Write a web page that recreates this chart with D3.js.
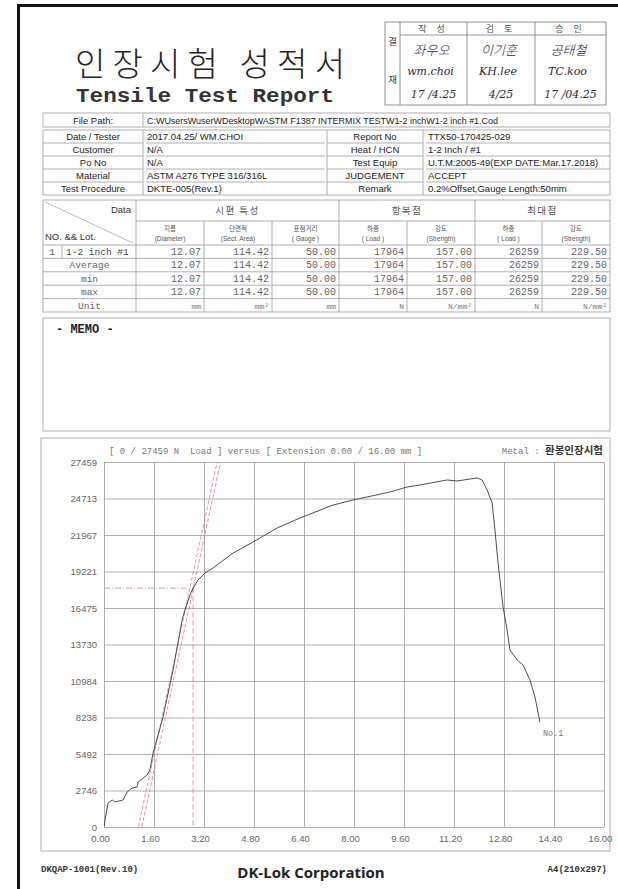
<!DOCTYPE html>
<html><head><meta charset="utf-8">
<script src="https://cdn.jsdelivr.net/npm/d3@7"></script>
<style>body{margin:0;background:#fff} svg{display:block} text{white-space:pre}</style>
</head><body>
<svg id="page" width="618" height="889"></svg>
<script>
// ---- report header fields ----
const approvalRoles = ["작 성", "검 토", "승 인"];
const signNames = ["좌우오", "이기훈", "공태철"];
const signIds = ["wm.choi", "KH.lee", "TC.koo"];
const signDates = ["17 /4.25", "4/25", "17 /04.25"];

const filePath = "C:WUsersWuserWDesktopWASTM F1387 INTERMIX TESTW1-2 inchW1-2 inch #1.Cod";
const infoLabelsLeft = ["Date / Tester", "Customer", "Po No", "Material", "Test Procedure"];
const infoValuesLeft = ["2017.04.25/ WM.CHOI", "N/A", "N/A", "ASTM A276 TYPE 316/316L", "DKTE-005(Rev.1)"];
const infoLabelsRight = ["Report No", "Heat / HCN", "Test Equip", "JUDGEMENT", "Remark"];
const infoValuesRight = ["TTX50-170425-029", "1-2 Inch / #1", "U.T.M:2005-49(EXP DATE:Mar.17.2018)", "ACCEPT", "0.2%Offset,Gauge Length:50mm"];

// ---- result table ----
const groupHeaders = ["시편 특성", "항복점", "최대점"];
const groupSpans = [3, 2, 2];
const subHeadersKo = ["지름", "단면적", "표점거리", "하중", "강도", "하중", "강도"];
const subHeadersEn = ["(Diameter)", "(Sect. Area)", "( Gauge )", "( Load )", "(Strength)", "( Load )", "(Strength)"];
const rowLabels = ["1-2 inch #1", "Average", "min", "max"];
const diameter = [12.07, 12.07, 12.07, 12.07];
const sectArea = [114.42, 114.42, 114.42, 114.42];
const gaugeLen = [50.00, 50.00, 50.00, 50.00];
const yieldLoad = [17964, 17964, 17964, 17964];
const yieldStrength = [157.00, 157.00, 157.00, 157.00];
const maxLoad = [26259, 26259, 26259, 26259];
const maxStrength = [229.50, 229.50, 229.50, 229.50];
const units = ["mm", "mm²", "mm", "N", "N/mm²", "N", "N/mm²"];

// ---- load / extension curve ----
const extension = [0, 0.06, 0.13, 0.26, 0.35, 0.61, 0.74, 0.90, 1.06, 1.09, 1.38, 1.47, 1.57, 1.89, 2.21, 2.50, 2.59, 2.75, 2.85, 3.01, 3.23, 3.49, 4.13, 4.77, 5.54, 6.27, 7.33, 7.97, 9.15, 9.70, 10.11, 10.98, 11.30, 11.94, 12.10, 12.26, 12.42, 12.51, 12.61, 12.77, 12.90, 12.99, 13.22, 13.41, 13.63, 13.79, 13.95];
const loadN = [0, 900, 1805, 2031, 1881, 2031, 2633, 2934, 3009, 3385, 3912, 4288, 5567, 8275, 11811, 15573, 16325, 17453, 17964, 18582, 19108, 19484, 20613, 21440, 22494, 23246, 24224, 24600, 25202, 25578, 25729, 26105, 26030, 26259, 26105, 25352, 24374, 22343, 19861, 16551, 14820, 13316, 12563, 12187, 11059, 9780, 7899];
const xTicks = [0, 1.6, 3.2, 4.8, 6.4, 8.0, 9.6, 11.2, 12.8, 14.4, 16.0];
const yTicks = [0, 2746, 5492, 8238, 10984, 13730, 16475, 19221, 21967, 24713, 27459];
const yieldExt = 2.85;
const elasticLineA = [[1.10, 0], [3.62, 27459]];
const elasticLineB = [[1.21, 0], [3.73, 27459]];

const svg = d3.select("#page");
const SANS = "'Liberation Sans', Arial, sans-serif";
const MONO = "'Liberation Mono', 'Courier New', monospace";
const KR = "'Noto Sans CJK KR', sans-serif";
const GRID = "#9a9a9a";

// page frame
svg.append("rect").attr("x", 0).attr("y", 0).attr("width", 618).attr("height", 889).attr("fill", "#fff");
svg.append("line").attr("x1", 18.5).attr("x2", 18.5).attr("y1", 4).attr("y2", 889).attr("stroke", "#111").attr("stroke-width", 3);
svg.append("line").attr("x1", 17).attr("x2", 618).attr("y1", 5.5).attr("y2", 5.5).attr("stroke", "#111").attr("stroke-width", 3);

// title
svg.append("text").attr("x", 75).attr("y", 76).attr("font-family", KR).attr("font-weight", 300)
  .attr("font-size", 33).attr("fill", "#222").attr("textLength", 270).attr("lengthAdjust", "spacing")
  .text("인장시험 성적서");
svg.append("text").attr("x", 76).attr("y", 102).attr("font-family", MONO).attr("font-weight", "bold")
  .attr("font-size", 20).attr("fill", "#333").attr("textLength", 258).attr("lengthAdjust", "spacingAndGlyphs")
  .text("Tensile Test Report");

// approval box
const ap = {x: 385, y: 22, w: 221, h: 83, colX: [385, 400, 467, 535, 606], headH: 13};
const apG = svg.append("g");
apG.append("rect").attr("x", ap.x).attr("y", ap.y).attr("width", ap.w).attr("height", ap.h)
  .attr("fill", "none").attr("stroke", "#777").attr("stroke-width", 0.8);
ap.colX.slice(1, 4).forEach(x => apG.append("line").attr("x1", x).attr("x2", x).attr("y1", ap.y).attr("y2", ap.y + ap.h).attr("stroke", "#777").attr("stroke-width", 0.8));
apG.append("line").attr("x1", 400).attr("x2", 606).attr("y1", ap.y + ap.headH).attr("y2", ap.y + ap.headH).attr("stroke", "#777").attr("stroke-width", 0.8);
apG.append("text").attr("x", 392.5).attr("y", 45).attr("text-anchor", "middle").attr("font-family", KR).attr("font-size", 9.5).attr("fill", "#444").text("결");
apG.append("text").attr("x", 392.5).attr("y", 83).attr("text-anchor", "middle").attr("font-family", KR).attr("font-size", 9.5).attr("fill", "#444").text("재");
approvalRoles.forEach((r, i) => {
  const cx = (ap.colX[i + 1] + ap.colX[i + 2]) / 2;
  apG.append("text").attr("x", cx).attr("y", 32).attr("text-anchor", "middle").attr("font-family", KR)
    .attr("font-size", 9).attr("fill", "#555").attr("letter-spacing", 4).text(r);
  apG.append("text").attr("x", cx - 2).attr("y", 55).attr("text-anchor", "middle").attr("font-family", KR)
    .attr("font-size", 13).attr("font-style", "italic").attr("font-weight", 300).attr("fill", "#2a2a3a").text(signNames[i]);
  apG.append("text").attr("x", cx - 3).attr("y", 75).attr("text-anchor", "middle").attr("font-family", "'DejaVu Serif', serif")
    .attr("font-size", 11).attr("font-style", "italic").attr("fill", "#2a2a3a").text(signIds[i]);
  apG.append("text").attr("x", cx).attr("y", 98).attr("text-anchor", "middle").attr("font-family", "'DejaVu Serif', serif")
    .attr("font-size", 11).attr("font-style", "italic").attr("fill", "#2a2a3a").text(signDates[i]);
});

// info table
const LINE = "#9c9c9c";
const T = {x0: 43, x1: 610, labW: 100, midX: 327, rLabX: 423};
const hline = (x1, x2, y) => svg.append("line").attr("x1", x1).attr("x2", x2).attr("y1", y).attr("y2", y).attr("stroke", LINE).attr("stroke-width", 0.8);
const vline = (x, y1, y2) => svg.append("line").attr("x1", x).attr("x2", x).attr("y1", y1).attr("y2", y2).attr("stroke", LINE).attr("stroke-width", 0.8);

svg.append("rect").attr("x", T.x0).attr("y", 113).attr("width", T.x1 - T.x0).attr("height", 14).attr("fill", "none").attr("stroke", LINE).attr("stroke-width", 0.8);
vline(T.x0 + T.labW, 113, 127);
svg.append("text").attr("x", T.x0 + T.labW / 2).attr("y", 124).attr("text-anchor", "middle").attr("font-family", SANS).attr("font-size", 9.5).attr("fill", "#222").text("File Path:");
svg.append("text").attr("x", 147).attr("y", 124).attr("font-family", SANS).attr("font-size", 9.5).attr("fill", "#222")
  .attr("textLength", 351).attr("lengthAdjust", "spacingAndGlyphs").text(filePath);

const rowY = d3.range(6).map(i => 130 + i * 13);
svg.append("rect").attr("x", T.x0).attr("y", rowY[0]).attr("width", T.x1 - T.x0).attr("height", rowY[5] - rowY[0]).attr("fill", "none").attr("stroke", LINE).attr("stroke-width", 0.8);
rowY.slice(1, 5).forEach(y => { hline(T.x0 + T.labW + 3, T.midX - 2, y); hline(T.rLabX + 3, T.x1, y); hline(T.x0, T.x0 + T.labW, y); hline(T.midX, T.rLabX, y); });
vline(T.x0 + T.labW, rowY[0], rowY[5]);
vline(T.midX, rowY[0], rowY[5]);
vline(T.rLabX, rowY[0], rowY[5]);
infoLabelsLeft.forEach((t, i) => {
  const y = rowY[i] + 10;
  svg.append("text").attr("x", T.x0 + T.labW / 2).attr("y", y).attr("text-anchor", "middle").attr("font-family", SANS).attr("font-size", 9.5).attr("fill", "#222").text(t);
  svg.append("text").attr("x", 147).attr("y", y).attr("font-family", SANS).attr("font-size", 9.5).attr("fill", "#222").text(infoValuesLeft[i]);
  svg.append("text").attr("x", (T.midX + T.rLabX) / 2).attr("y", y).attr("text-anchor", "middle").attr("font-family", SANS).attr("font-size", 9.5).attr("fill", "#222").text(infoLabelsRight[i]);
  svg.append("text").attr("x", 428).attr("y", y).attr("font-family", SANS).attr("font-size", 9.5).attr("fill", "#222").text(infoValuesRight[i]);
});

// result table
const colX = [43, 136, 204, 272, 339, 407, 475, 542, 610];
const rTop = 200, rHead1 = 221, rHead2 = 245, rStep = 13.4;
const rBottom = rHead2 + rStep * 5;
svg.append("rect").attr("x", 43).attr("y", rTop).attr("width", 567).attr("height", rBottom - rTop).attr("fill", "none").attr("stroke", LINE).attr("stroke-width", 0.8);
hline(136, 610, rHead1);
hline(43, 610, rHead2);
d3.range(1, 5).forEach(i => hline(43, 610, rHead2 + i * rStep));
// column lines: group borders run full height, inner ones start below the group header
colX.slice(1, 8).forEach((x, i) => {
  const isGroup = (i === 0 || i === 3 || i === 5);
  vline(x, isGroup ? rTop : rHead1, rBottom);
});
vline(62, rHead2, rHead2 + rStep);
svg.append("line").attr("x1", 45).attr("y1", rTop + 2).attr("x2", 133).attr("y2", rHead2 - 2).attr("stroke", "#aaa").attr("stroke-width", 0.8);
svg.append("text").attr("x", 131).attr("y", 213).attr("text-anchor", "end").attr("font-family", SANS).attr("font-size", 9.5).attr("fill", "#333").text("Data");
svg.append("text").attr("x", 45).attr("y", 240).attr("font-family", SANS).attr("font-size", 9.5).attr("fill", "#333").text("NO. && Lot.");

let gi = 1;
groupHeaders.forEach((g, k) => {
  const a = colX[gi], b = colX[gi + groupSpans[k]];
  svg.append("text").attr("x", (a + b) / 2).attr("y", 214).attr("text-anchor", "middle").attr("font-family", KR).attr("font-size", 9.5).attr("fill", "#555").attr("letter-spacing", 1.5).text(g);
  gi += groupSpans[k];
});
subHeadersKo.forEach((t, i) => {
  const cx = (colX[i + 1] + colX[i + 2]) / 2;
  svg.append("text").attr("x", cx).attr("y", 231).attr("text-anchor", "middle").attr("font-family", KR).attr("font-size", 6.5).attr("fill", "#555").text(t);
  svg.append("text").attr("x", cx).attr("y", 241).attr("text-anchor", "middle").attr("font-family", SANS).attr("font-size", 6.5).attr("fill", "#555").text(subHeadersEn[i]);
});

const columns = [
  diameter.map(v => v.toFixed(2)), sectArea.map(v => v.toFixed(2)), gaugeLen.map(v => v.toFixed(2)),
  yieldLoad.map(v => String(v)), yieldStrength.map(v => v.toFixed(2)),
  maxLoad.map(v => String(v)), maxStrength.map(v => v.toFixed(2))
];
rowLabels.forEach((lab, r) => {
  const y = rHead2 + r * rStep + 10;
  if (r === 0) {
    svg.append("text").attr("x", 52).attr("y", y).attr("text-anchor", "middle").attr("font-family", MONO).attr("font-size", 9.5).attr("fill", "#555").text("1");
    svg.append("text").attr("x", 66).attr("y", y).attr("font-family", MONO).attr("font-size", 9.5).attr("fill", "#444").text(lab);
  } else {
    svg.append("text").attr("x", 89.5).attr("y", y).attr("text-anchor", "middle").attr("font-family", MONO).attr("font-size", 9.5).attr("fill", "#666").text(lab);
  }
  columns.forEach((col, c) => {
    svg.append("text").attr("x", colX[c + 2] - 3).attr("y", y).attr("text-anchor", "end").attr("font-family", MONO).attr("font-size", 10).attr("fill", "#666").text(col[r]);
  });
});
{
  const y = rHead2 + 4 * rStep + 10;
  svg.append("text").attr("x", 89.5).attr("y", y).attr("text-anchor", "middle").attr("font-family", MONO).attr("font-size", 9.5).attr("fill", "#666").text("Unit");
  units.forEach((u, c) => svg.append("text").attr("x", colX[c + 2] - 3).attr("y", y).attr("text-anchor", "end").attr("font-family", MONO).attr("font-size", 8).attr("fill", "#777").text(u));
}

// memo box
svg.append("rect").attr("x", 43).attr("y", 318).attr("width", 567).attr("height", 113).attr("fill", "none").attr("stroke", LINE).attr("stroke-width", 0.8);
svg.append("text").attr("x", 56).attr("y", 333).attr("font-family", MONO).attr("font-weight", "bold").attr("font-size", 12).attr("fill", "#222").text("- MEMO -");

// chart box
svg.append("rect").attr("x", 41).attr("y", 438).attr("width", 569).attr("height", 413).attr("fill", "none").attr("stroke", LINE).attr("stroke-width", 0.8);
svg.append("text").attr("x", 109).attr("y", 454).attr("font-family", MONO).attr("font-size", 9).attr("fill", "#777")
  .text("[ 0 / 27459 N  Load ] versus [ Extension 0.00 / 16.00 mm ]");
const metal = svg.append("text").attr("x", 603).attr("y", 454).attr("text-anchor", "end").attr("font-family", MONO).attr("font-size", 9).attr("fill", "#777");
metal.append("tspan").text("Metal : ");
metal.append("tspan").attr("font-family", KR).attr("font-weight", "bold").attr("font-size", 10.5).attr("fill", "#333").text("환봉인장시험");

const x = d3.scaleLinear().domain([0, 16]).range([104, 604]);
const y = d3.scaleLinear().domain([0, 27459]).range([827, 462]);

const gridG = svg.append("g");
gridG.append("g").attr("transform", `translate(0,${y(0)})`)
  .call(d3.axisBottom(x).tickValues(xTicks).tickSize(-(y(0) - y(27459))).tickFormat(d => d.toFixed(2)))
  .call(g => g.select(".domain").remove())
  .call(g => g.selectAll(".tick line").attr("stroke", GRID).attr("stroke-width", 0.8))
  .call(g => g.selectAll(".tick text").attr("dy", 0).attr("y", 15).attr("dx", -4).attr("font-family", SANS).attr("font-size", 9.5).attr("fill", "#666"));
gridG.append("g").attr("transform", `translate(${x(0)},0)`)
  .call(d3.axisLeft(y).tickValues(yTicks).tickSize(-(x(16) - x(0))).tickFormat(d => String(d)))
  .call(g => g.select(".domain").remove())
  .call(g => g.selectAll(".tick line").attr("stroke", GRID).attr("stroke-width", 0.8))
  .call(g => g.selectAll(".tick text").attr("x", -7).attr("font-family", SANS).attr("font-size", 9.5).attr("fill", "#666"));
gridG.selectAll("text").attr("font-family", SANS);

svg.append("clipPath").attr("id", "plotClip").append("rect")
  .attr("x", x(0)).attr("y", y(27459)).attr("width", x(16) - x(0)).attr("height", y(0) - y(27459));
const plot = svg.append("g").attr("clip-path", "url(#plotClip)");

const ln = d3.line().x(d => x(d[0])).y(d => y(d[1]));
[elasticLineA, elasticLineB].forEach(seg => {
  plot.append("path").attr("d", ln(seg)).attr("fill", "none").attr("stroke", "#e07a8c").attr("stroke-width", 0.8).attr("stroke-dasharray", "4,2");
});
plot.append("path").attr("d", ln([[0, yieldLoad[0]], [yieldExt, yieldLoad[0]]])).attr("fill", "none")
  .attr("stroke", "#d98a96").attr("stroke-width", 0.8).attr("stroke-dasharray", "6,2,1,2");
plot.append("path").attr("d", ln([[yieldExt, yieldLoad[0]], [yieldExt, 0]])).attr("fill", "none")
  .attr("stroke", "#e07a8c").attr("stroke-width", 0.8).attr("stroke-dasharray", "5,3");

const curve = extension.map((e, i) => [e, loadN[i]]);
plot.append("path").attr("d", ln(curve)).attr("fill", "none").attr("stroke", "#3a3a3a").attr("stroke-width", 0.9);

const last = curve[curve.length - 1];
svg.append("text").attr("x", x(last[0]) + 3).attr("y", y(last[1]) + 14).attr("font-family", MONO).attr("font-size", 8.5).attr("fill", "#777").text("No.1");

// footer
svg.append("text").attr("x", 41).attr("y", 872).attr("font-family", MONO).attr("font-weight", "bold").attr("font-size", 9).attr("fill", "#333").text("DKQAP-1001(Rev.10)");
svg.append("text").attr("x", 311).attr("y", 878).attr("text-anchor", "middle").attr("font-family", "'Open Sans', 'Noto Sans', sans-serif").attr("font-weight", "bold").attr("font-size", 15).attr("fill", "#222").text("DK-Lok Corporation");
svg.append("text").attr("x", 607).attr("y", 872).attr("text-anchor", "end").attr("font-family", MONO).attr("font-weight", "bold").attr("font-size", 9).attr("fill", "#333").text("A4(210x297)");
</script>
</body></html>
